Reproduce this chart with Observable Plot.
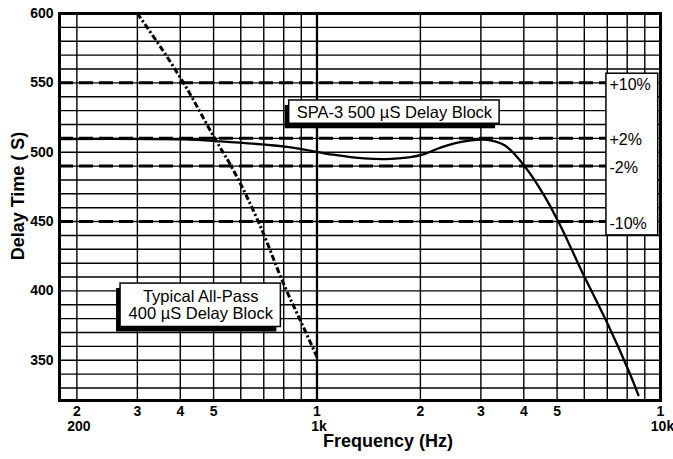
<!DOCTYPE html>
<html>
<head>
<meta charset="utf-8">
<script src="https://cdn.jsdelivr.net/npm/d3@7"></script>
<script src="https://cdn.jsdelivr.net/npm/@observablehq/plot@0.6"></script>
<style>
  html, body { margin: 0; padding: 0; background: #fff; }
  #chart svg { display: block; }
</style>
</head>
<body>
<div id="chart"></div>
<script>
// ---- data ----
const xTicks = [200, 300, 400, 500, 600, 700, 800, 900, 1000, 2000, 3000, 4000, 5000, 6000, 7000, 8000, 9000, 10000];
const xTickDigits = ["2", "3", "4", "5", "6", "7", "8", "9", "1", "2", "3", "4", "5", "6", "7", "8", "9", "1"];
const xSubTicks = [200, 1000, 10000];
const xSubLabels = ["200", "1k", "10k"];
const yTicks = [350, 400, 450, 500, 550, 600];

// SPA-3 500 µS delay block (solid)
const spaFreq  = [178, 406, 508, 828, 1113, 1371, 1600, 1850, 2050, 2299, 2683, 3069, 3515, 4068, 4600, 5087, 5578, 5998, 7047, 8066, 8627];
const spaDelay = [509.5, 509.2, 508, 503.7, 498.2, 495.5, 495, 496.2, 498.6, 503.5, 507.8, 509, 505, 488.3, 468.2, 448, 427.1, 410.5, 375.2, 342.8, 324.8];

// Typical all-pass 400 µS delay block (dash-dot)
const apFreq  = [300, 410, 508, 568, 679, 803, 908, 1005];
const apDelay = [600, 549.4, 508.5, 488.1, 448.5, 404, 375.2, 351.2];

// tolerance lines
const tolLevels = [550, 510, 490, 450];
const tolLabels = ["+10%", "+2%", "-2%", "-10%"];

// annotation boxes (data coordinates)
const boxLabels = ["SPA-3 500 \u00b5S Delay Block", "Typical All-Pass\n400 \u00b5S Delay Block"];
const boxX1 = [830, 268];
const boxX2 = [3401, 785];
const boxY1 = [520.5, 374];
const boxY2 = [537.3, 405.3];
const tolBox = {x1: 6960, x2: 9847, y1: 440, y2: 556.6};

// grid positions
const xGrid = xTicks.filter(d => d < 10000);
const yGrid = d3.range(330, 600, 10);

const spa = spaFreq.map((f, i) => ({f, v: spaDelay[i]}));
const ap = apFreq.map((f, i) => ({f, v: apDelay[i]}));
const tol = tolLevels.map((v, i) => ({v, label: tolLabels[i]}));
const boxes = boxLabels.map((label, i) => ({
  label, x1: boxX1[i], x2: boxX2[i], y1: boxY1[i], y2: boxY2[i],
  xc: Math.sqrt(boxX1[i] * boxX2[i]), yc: (boxY1[i] + boxY2[i]) / 2
}));

const font = "'Liberation Sans', Arial, Helvetica, sans-serif";

const chart = Plot.plot({
  width: 673,
  height: 459,
  marginLeft: 59,
  marginRight: 13,
  marginTop: 13,
  marginBottom: 59,
  style: {fontFamily: font, background: "#fff", color: "#000"},
  x: {type: "log", domain: [178, 10000]},
  y: {domain: [321, 600]},
  marks: [
    // grid
    Plot.ruleY(yGrid, {stroke: "#000", strokeWidth: 1.4}),
    Plot.ruleX(xGrid, {stroke: "#000", strokeWidth: d => d === 1000 ? 2.3 : 1.4}),
    // tolerance dashed lines
    Plot.ruleY(tol, {y: "v", stroke: "#000", strokeWidth: 3, strokeDasharray: "14,6"}),
    // curves
    Plot.line(ap, {x: "f", y: "v", stroke: "#000", strokeWidth: 3, strokeLinecap: "butt", strokeDasharray: "6,2.5,2.2,2.5", curve: "monotone-x", clip: true}),
    Plot.line(spa, {x: "f", y: "v", stroke: "#000", strokeWidth: 2.3, curve: "catmull-rom", clip: true}),
    // annotation boxes with drop shadows
    Plot.rect(boxes, {x1: "x1", x2: "x2", y1: "y1", y2: "y2", fill: "#000", dx: -4, dy: 5}),
    Plot.rect(boxes, {x1: "x1", x2: "x2", y1: "y1", y2: "y2", fill: "#fff", stroke: "#000", strokeWidth: 1.5}),
    Plot.text(boxes, {x: "xc", y: "yc", text: "label", fontSize: 16.5, lineHeight: 1.02, fill: "#000"}),
    // tolerance label box
    Plot.rect([tolBox], {x1: "x1", x2: "x2", y1: "y1", y2: "y2", fill: "#fff", stroke: "#000", strokeWidth: 1.5}),
    Plot.text(tol, {x: tolBox.x1, y: "v", text: "label", textAnchor: "start", dx: 3, dy: 2, fontSize: 16, fill: "#000"}),
    // frame
    Plot.frame({stroke: "#000", strokeWidth: 3}),
    // axes
    Plot.axisY({ticks: yTicks, tickSize: 0, tickPadding: 6, fontSize: 14, fontWeight: "bold", label: null, tickFormat: d => String(d)}),
    Plot.axisX({ticks: xTicks, tickSize: 0, tickPadding: 6, fontSize: 14, fontWeight: "bold", label: null,
      tickFormat: d => xTickDigits[xTicks.indexOf(d)]}),
    Plot.axisX({ticks: xSubTicks, tickSize: 0, tickPadding: 21, fontSize: 14, fontWeight: "bold", label: null,
      tickFormat: d => xSubLabels[xSubTicks.indexOf(d)], dx: 2}),
    // axis titles
    Plot.text(["Frequency (Hz)"], {frameAnchor: "bottom", lineAnchor: "middle", dx: 28, dy: 41, fontSize: 18, fontWeight: "bold", fill: "#000"}),
    Plot.text(["Delay Time ( S)"], {frameAnchor: "left", textAnchor: "middle", rotate: -90, dx: -41, dy: -11, fontSize: 18, fontWeight: "bold", fill: "#000"})
  ]
});
document.getElementById("chart").appendChild(chart);
</script>
</body>
</html>
